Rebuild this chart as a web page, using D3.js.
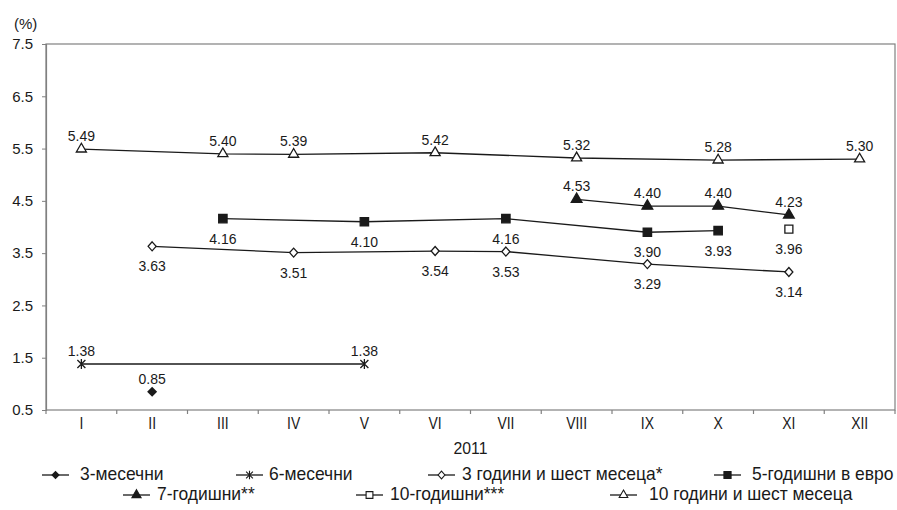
<!DOCTYPE html>
<html>
<head>
<meta charset="utf-8">
<script src="https://cdn.jsdelivr.net/npm/d3@7"></script>
<style>
  body { margin: 0; background: #fff; }
  svg { display: block; }
</style>
</head>
<body>
<script>
// months of 2011
var months = ["I","II","III","IV","V","VI","VII","VIII","IX","X","XI","XII"];
var yTicks = [0.5, 1.5, 2.5, 3.5, 4.5, 5.5, 6.5, 7.5];

// yields, % (null = no auction that month)
var m3     = [null, 0.85, null, null, null, null, null, null, null, null, null, null];
var m6     = [1.38, null, null, null, 1.38, null, null, null, null, null, null, null];
var y3m6   = [null, 3.63, null, 3.51, null, 3.54, 3.53, null, 3.29, null, 3.14, null];
var y5eur  = [null, null, 4.16, null, 4.10, null, 4.16, null, 3.90, 3.93, null, null];
var y7     = [null, null, null, null, null, null, null, 4.53, 4.40, 4.40, 4.23, null];
var y10    = [null, null, null, null, null, null, null, null, null, null, 3.96, null];
var y10m6  = [5.49, null, 5.40, 5.39, null, 5.42, null, 5.32, null, 5.28, null, 5.30];

var names = ["3-месечни", "6-месечни", "3 години и шест месеца*", "5-годишни в евро",
             "7-годишни**", "10-годишни***", "10 години и шест месеца"];

var series = [
  { name: names[0], values: m3,    marker: "diamondFilled", label: "above" },
  { name: names[1], values: m6,    marker: "asterisk",      label: "above" },
  { name: names[2], values: y3m6,  marker: "diamondOpen",   label: "below" },
  { name: names[3], values: y5eur, marker: "squareFilled",  label: "below" },
  { name: names[4], values: y7,    marker: "triangleFilled",label: "above" },
  { name: names[5], values: y10,   marker: "squareOpen",    label: "below" },
  { name: names[6], values: y10m6, marker: "triangleOpen",  label: "above" }
];

var W = 897, H = 510;
var plotL = 46, plotR = 895, plotT = 44, plotB = 410;
var ink = "#1a1a1a", axisCol = "#808080";
var numFont = "'Liberation Sans', Arial, sans-serif";

var svg = d3.select("body").append("svg")
  .attr("width", W)
  .attr("height", H);

var x = d3.scaleBand().domain(months).range([plotL, plotR]).padding(0);
var y = d3.scaleLinear().domain([0.5, 7.5]).range([plotB, plotT]);
var cx = function(m) { return x(m) + x.bandwidth() / 2; };

// text squeezed horizontally (the original uses a condensed face)
function condensed(parent, px, py, str, size, squeeze, anchor) {
  return parent.append("text")
    .attr("transform", "translate(" + px + "," + py + ") scale(" + squeeze + ",1)")
    .attr("text-anchor", anchor || "start")
    .attr("font-family", numFont).attr("font-size", size).attr("fill", ink)
    .text(str);
}

// frame
svg.append("rect")
  .attr("x", plotL).attr("y", plotT)
  .attr("width", plotR - plotL).attr("height", plotB - plotT)
  .attr("fill", "none").attr("stroke", axisCol).attr("stroke-width", 1.2);

// y axis
var yAxis = svg.append("g").attr("transform", "translate(" + plotL + ",0)")
  .call(d3.axisLeft(y).tickValues(yTicks).tickSize(4).tickPadding(9)
        .tickFormat(d3.format(".1f")));
yAxis.select(".domain").attr("stroke", axisCol).attr("stroke-width", 1.2);
yAxis.selectAll(".tick line").attr("stroke", axisCol);
yAxis.selectAll("text").attr("font-family", numFont).attr("font-size", 15).attr("fill", ink);

// x axis: ticks at month boundaries, labels centred
var edges = months.map(function(m) { return x(m); }).concat([plotR]);
svg.selectAll(".xtick").data(edges).enter().append("line")
  .attr("x1", function(d) { return d; }).attr("x2", function(d) { return d; })
  .attr("y1", plotB).attr("y2", plotB + 4)
  .attr("stroke", axisCol).attr("stroke-width", 1.2);
months.forEach(function(m) {
  condensed(svg, cx(m), plotB + 19, m, 16, 0.87, "middle");
});

condensed(svg, (plotL + plotR) / 2, 454, "2011", 17, 0.93, "middle");

svg.append("text").attr("x", 14).attr("y", 29)
  .attr("font-family", numFont).attr("font-size", 15).attr("fill", ink)
  .text("(%)");

function drawMarker(g, type) {
  if (type === "asterisk") {
    g.append("path").attr("d", "M-4,-4L4,4M-4,4L4,-4M0,-5L0,5")
      .attr("stroke", ink).attr("stroke-width", 1.3).attr("fill", "none");
    return;
  }
  if (type === "diamondFilled") {
    g.append("path").attr("d", "M0,-5L5,0L0,5L-5,0Z").attr("fill", ink);
    return;
  }
  if (type === "diamondOpen") {
    g.append("path").attr("d", "M0,-4.5L4,0L0,4.5L-4,0Z")
      .attr("fill", "#fff").attr("stroke", ink).attr("stroke-width", 1.3);
    return;
  }
  var sym, size, filled;
  if (type === "squareFilled")  { sym = d3.symbolSquare;  size = 70; filled = true; }
  if (type === "squareOpen")    { sym = d3.symbolSquare;  size = 64; filled = false; }
  if (type === "triangleFilled"){ sym = d3.symbolTriangle;size = 50; filled = true; }
  if (type === "triangleOpen")  { sym = d3.symbolTriangle;size = 44; filled = false; }
  g.append("path").attr("d", d3.symbol().type(sym).size(size)())
    .attr("fill", filled ? ink : "#fff")
    .attr("stroke", ink).attr("stroke-width", 1.3);
}

var line = d3.line()
  .x(function(d) { return cx(d.m); })
  .y(function(d) { return y(d.v); });

series.forEach(function(s) {
  var pts = s.values.map(function(v, i) { return { m: months[i], v: v }; })
    .filter(function(d) { return d.v !== null; });

  if (pts.length > 1) {
    svg.append("path").datum(pts)
      .attr("d", line)
      .attr("fill", "none").attr("stroke", ink).attr("stroke-width", 1.3);
  }

  pts.forEach(function(d) {
    var g = svg.append("g").attr("transform", "translate(" + cx(d.m) + "," + y(d.v) + ")");
    drawMarker(g, s.marker);
  });

  svg.selectAll(null).data(pts).enter().append("text")
    .attr("x", function(d) { return cx(d.m); })
    .attr("y", function(d) { return y(d.v) + (s.label === "above" ? -8 : 25); })
    .attr("text-anchor", "middle")
    .attr("font-family", numFont).attr("font-size", 14).attr("fill", ink)
    .text(function(d) { return d.v.toFixed(2); });
});

// legend: line start, text start, baseline
var legendPos = [
  { x: 42,  tx: 80,  y: 480 }, { x: 236, tx: 269, y: 480 },
  { x: 428, tx: 462, y: 480 }, { x: 714, tx: 752, y: 480 },
  { x: 123, tx: 157, y: 500 }, { x: 356, tx: 390, y: 500 },
  { x: 610, tx: 649, y: 500 }
];
series.forEach(function(s, i) {
  var p = legendPos[i];
  var g = svg.append("g").attr("transform", "translate(" + p.x + "," + (p.y - 5) + ")");
  g.append("line").attr("x1", 0).attr("x2", 27).attr("y1", 0).attr("y2", 0)
    .attr("stroke", ink).attr("stroke-width", 1.3);
  var mg = g.append("g").attr("transform", "translate(13.5,0) scale(0.85)");
  drawMarker(mg, s.marker);
  condensed(svg, p.tx, p.y, s.name, 18, 0.97, "start");
});
</script>
</body>
</html>
